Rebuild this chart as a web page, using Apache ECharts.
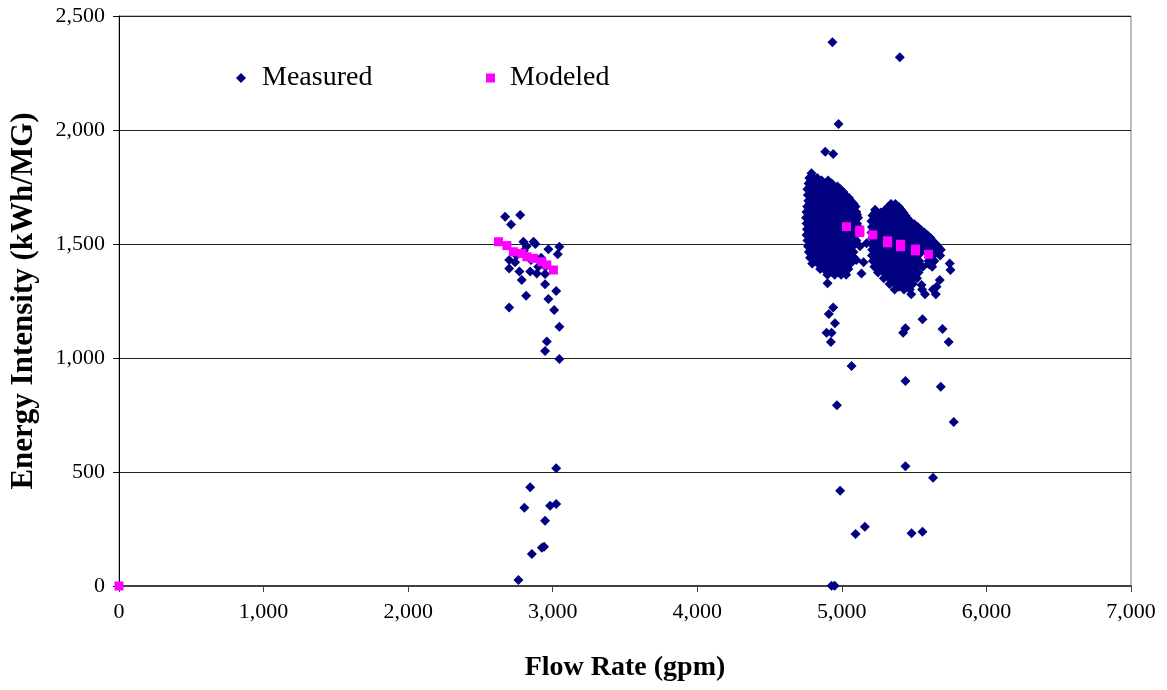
<!DOCTYPE html>
<html>
<head>
<meta charset="utf-8">
<script src="https://cdn.jsdelivr.net/npm/echarts@6/dist/echarts.min.js"></script>
<style>html,body{margin:0;padding:0;background:#fff;}#c{width:1167px;height:690px;}</style>
</head>
<body>
<div id="c"></div>
<script>
// ---- Data ----
var xTicks = [0, 1000, 2000, 3000, 4000, 5000, 6000, 7000];
var yTicks = [0, 500, 1000, 1500, 2000, 2500];

// Measured: low-flow group (~2,700-3,050 gpm)
var measuredLow = [
  [2671,1620],[2775,1627],[2712,1586],[2797,1510],[2867,1510],[2970,1477],[3046,1488],[3035,1455],
  [2699,1430],[2699,1393],[2770,1379],[2786,1342],[2844,1379],[2890,1371],[2947,1368],[2947,1323],
  [2816,1273],[3024,1294],[2970,1259],[2699,1221],[3010,1211],[3046,1137],[2959,1072],[2947,1031],
  [3046,996],[2750,1450],[2800,1470],[2850,1430],[2900,1400],[2950,1400],[2820,1490],[2880,1500],
  [2740,1420],[2920,1440],
  [3024,516],[2844,433],[2804,343],[2982,352],[3024,360],[2947,286],[2940,172],[2925,168],
  [2856,140],[2763,26]
];

// Measured: main cluster around 4,750-5,130 gpm
var measuredMidA = [
  [4790,1810],
  [4775,1790],[4805,1790],[4830,1790],
  [4788,1778],[4820,1778],[4860,1778],[4905,1778],
  [4770,1765],[4800,1765],[4840,1765],[4880,1765],[4930,1765],
  [4778,1752],[4812,1752],[4850,1752],[4890,1752],[4930,1752],[4970,1752],
  [4762,1740],[4795,1740],[4830,1740],[4870,1740],[4910,1740],[4950,1740],[4990,1740],
  [4780,1728],[4818,1728],[4858,1728],[4895,1728],[4935,1728],[4975,1728],[5010,1728],
  [4765,1715],[4800,1715],[4840,1715],[4875,1715],[4915,1715],[4955,1715],[4995,1715],[5025,1715],
  [4785,1702],[4822,1702],[4862,1702],[4902,1702],[4940,1702],[4980,1702],[5020,1702],[5050,1702],
  [4768,1690],[4805,1690],[4845,1690],[4885,1690],[4920,1690],[4960,1690],[5000,1690],[5040,1690],[5060,1690],
  [4778,1678],[4815,1678],[4855,1678],[4895,1678],[4935,1678],[4975,1678],[5015,1678],[5050,1678],[5080,1678],
  [4760,1665],[4795,1665],[4835,1665],[4875,1665],[4910,1665],[4950,1665],[4990,1665],[5030,1665],[5070,1665],[5095,1665],
  [4772,1652],[4812,1652],[4850,1652],[4888,1652],[4928,1652],[4965,1652],[5005,1652],[5042,1652],[5080,1652],
  [4755,1640],[4790,1640],[4830,1640],[4870,1640],[4905,1640],[4945,1640],[4985,1640],[5025,1640],[5060,1640],[5100,1640],
  [4770,1628],[4808,1628],[4848,1628],[4885,1628],[4922,1628],[4962,1628],[5000,1628],[5038,1628],[5075,1628],[5105,1628],
  [4752,1615],[4788,1615],[4825,1615],[4865,1615],[4900,1615],[4940,1615],[4980,1615],[5020,1615],[5055,1615],[5090,1615],[5112,1615],
  [4772,1602],[4812,1602],[4850,1602],[4890,1602],[4930,1602],[4970,1602],[5010,1602],[5048,1602],[5085,1602],
  [4756,1590],[4795,1590],[4835,1590],[4870,1590],[4910,1590],[4950,1590],[4990,1590],[5030,1590],[5065,1590],[5105,1590],
  [4775,1578],[4812,1578],[4850,1578],[4888,1578],[4928,1578],[4968,1578],[5005,1578],[5042,1578],[5080,1578],[5110,1578],
  [4758,1565],[4792,1565],[4830,1565],[4868,1565],[4905,1565],[4945,1565],[4985,1565],[5020,1565],[5060,1565],[5095,1565],[5120,1565],
  [4773,1552],[4810,1552],[4848,1552],[4885,1552],[4922,1552],[4962,1552],[5000,1552],[5038,1552],[5075,1552],[5105,1552],
  [4756,1540],[4790,1540],[4828,1540],[4865,1540],[4902,1540],[4940,1540],[4980,1540],[5018,1540],[5055,1540],[5090,1540],
  [4778,1528],[4818,1528],[4855,1528],[4892,1528],[4930,1528],[4970,1528],[5008,1528],[5045,1528],[5082,1528],
  [4762,1515],[4800,1515],[4838,1515],[4875,1515],[4912,1515],[4950,1515],[4990,1515],[5025,1515],[5065,1515],[5100,1515],
  [4784,1502],[4822,1502],[4860,1502],[4898,1502],[4935,1502],[4972,1502],[5012,1502],[5050,1502],[5095,1502],
  [4766,1490],[4805,1490],[4842,1490],[4880,1490],[4918,1490],[4955,1490],[4995,1490],[5030,1490],[5075,1490],[5125,1490],
  [4788,1478],[4826,1478],[4864,1478],[4902,1478],[4940,1478],[4978,1478],[5018,1478],[5060,1478],
  [4772,1465],[4810,1465],[4848,1465],[4885,1465],[4922,1465],[4960,1465],[5000,1465],[5040,1465],[5080,1465],
  [4796,1452],[4836,1452],[4872,1452],[4910,1452],[4950,1452],[4986,1452],[5025,1452],[5065,1452],
  [4780,1440],[4818,1440],[4855,1440],[4892,1440],[4930,1440],[4968,1440],[5005,1440],[5045,1440],[5085,1440],
  [4812,1428],[4852,1428],[4890,1428],[4928,1428],[4966,1428],[5005,1428],[5042,1428],
  [4795,1415],[4835,1415],[4872,1415],[4910,1415],[4948,1415],[4985,1415],[5025,1415],[5060,1415],
  [4870,1402],[4910,1402],[4950,1402],[4986,1402],[5025,1402],
  [4850,1390],[4890,1390],[4930,1390],[4968,1390],[5005,1390],[5045,1390],
  [4925,1378],[4972,1378],[5012,1378],
  [4900,1365],[4950,1365],[4995,1365],[5030,1365],
  [5136,1371],[5171,1503],[5150,1420],[5100,1430],[4894,1379],
  [4885,1905],[4940,1895],[4977,2026],[4935,2385],
  [4901,1328],[4940,1222],[4910,1193],[4952,1152],[4894,1111],[4929,1111],[4924,1070],
  [5067,965],[4966,793],[4988,418],[5159,260],[5095,228],[4929,1],[4950,1]
];

// Measured: second cluster around 5,200-5,750 gpm
var measuredMidB = [
  [5340,1675],[5370,1675],
  [5320,1662],[5355,1662],[5395,1662],
  [5230,1650],[5300,1650],[5340,1650],[5380,1650],[5410,1650],
  [5230,1638],[5270,1638],[5310,1638],[5350,1638],[5390,1638],[5425,1638],
  [5212,1625],[5250,1625],[5290,1625],[5330,1625],[5370,1625],[5410,1625],[5440,1625],
  [5224,1612],[5262,1612],[5300,1612],[5340,1612],[5380,1612],[5420,1612],[5455,1612],
  [5205,1600],[5242,1600],[5280,1600],[5320,1600],[5360,1600],[5400,1600],[5440,1600],[5470,1600],
  [5225,1588],[5262,1588],[5302,1588],[5342,1588],[5382,1588],[5422,1588],[5460,1588],[5500,1588],
  [5208,1575],[5245,1575],[5285,1575],[5325,1575],[5365,1575],[5405,1575],[5445,1575],[5485,1575],[5525,1575],
  [5222,1562],[5262,1562],[5302,1562],[5342,1562],[5382,1562],[5422,1562],[5462,1562],[5500,1562],[5545,1562],
  [5205,1550],[5240,1550],[5280,1550],[5320,1550],[5360,1550],[5400,1550],[5440,1550],[5480,1550],[5520,1550],[5570,1550],
  [5225,1538],[5265,1538],[5305,1538],[5345,1538],[5385,1538],[5425,1538],[5465,1538],[5505,1538],[5550,1538],[5592,1538],
  [5210,1525],[5248,1525],[5288,1525],[5328,1525],[5368,1525],[5408,1525],[5448,1525],[5490,1525],[5530,1525],[5570,1525],[5615,1525],
  [5225,1512],[5265,1512],[5305,1512],[5345,1512],[5385,1512],[5425,1512],[5465,1512],[5505,1512],[5545,1512],[5585,1512],[5628,1512],
  [5206,1500],[5244,1500],[5284,1500],[5324,1500],[5364,1500],[5404,1500],[5444,1500],[5484,1500],[5525,1500],[5565,1500],[5605,1500],[5650,1500],
  [5228,1488],[5268,1488],[5308,1488],[5348,1488],[5388,1488],[5428,1488],[5468,1488],[5508,1488],[5548,1488],[5615,1488],[5665,1488],
  [5210,1475],[5250,1475],[5290,1475],[5330,1475],[5370,1475],[5410,1475],[5450,1475],[5490,1475],[5530,1475],[5590,1475],[5640,1475],[5685,1475],
  [5228,1462],[5268,1462],[5308,1462],[5348,1462],[5388,1462],[5428,1462],[5468,1462],[5506,1462],[5545,1462],[5650,1462],
  [5208,1450],[5246,1450],[5286,1450],[5326,1450],[5366,1450],[5406,1450],[5446,1450],[5486,1450],[5525,1450],[5615,1450],[5680,1450],
  [5232,1438],[5272,1438],[5312,1438],[5352,1438],[5392,1438],[5432,1438],[5472,1438],[5512,1438],[5620,1438],
  [5215,1425],[5255,1425],[5295,1425],[5335,1425],[5375,1425],[5415,1425],[5455,1425],[5495,1425],[5535,1425],[5600,1425],[5640,1425],
  [5242,1412],[5282,1412],[5320,1412],[5360,1412],[5400,1412],[5440,1412],[5480,1412],[5520,1412],[5600,1412],
  [5225,1400],[5262,1400],[5300,1400],[5340,1400],[5380,1400],[5420,1400],[5460,1400],[5500,1400],[5560,1400],[5625,1400],
  [5268,1388],[5310,1388],[5350,1388],[5390,1388],[5430,1388],[5470,1388],[5510,1388],
  [5250,1375],[5290,1375],[5330,1375],[5370,1375],[5410,1375],[5450,1375],[5490,1375],[5530,1375],
  [5310,1362],[5350,1362],[5390,1362],[5430,1362],[5470,1362],[5505,1362],
  [5290,1350],[5330,1350],[5370,1350],[5410,1350],[5450,1350],[5490,1350],[5520,1350],
  [5350,1338],[5390,1338],[5430,1338],[5470,1338],
  [5330,1325],[5370,1325],[5410,1325],[5450,1325],[5490,1325],
  [5395,1312],[5450,1312],
  [5365,1300],[5430,1300],[5470,1300],[5555,1300],[5630,1300],
  [5480,1280],[5575,1280],[5650,1280],
  [5746,1415],[5751,1386],[5677,1342],[5655,1313],[5551,1320],
  [5401,2319],
  [5558,1170],[5696,1127],[5739,1070],[5424,1111],[5440,1130],
  [5440,899],[5684,874],[5774,719],[5440,525],[5631,475],[5482,231],[5558,238]
];

var measured = measuredLow.concat(measuredMidA, measuredMidB);

// Modeled
var modeled = [
  [0,0],
  [2625,1510],[2683,1493],[2728,1466],[2786,1459],[2821,1444],[2867,1437],[2925,1422],[2959,1408],[3005,1386],
  [5032,1576],[5124,1561],[5124,1550],[5214,1540],[5316,1514],[5316,1505],[5406,1499],[5406,1488],[5509,1478],[5509,1470],[5599,1455]
];

var FONT = 'Liberation Serif';
function fmt(v){ return v.toLocaleString('en-US'); }

var chart = echarts.init(document.getElementById('c'), null, {renderer:'canvas'});
chart.setOption({
  backgroundColor: '#ffffff',
  animation: false,
  grid: { left: 118, right: 36, top: 16, bottom: 104, show: true, borderColor: '#808080', borderWidth: 1, backgroundColor: 'transparent' },
  legend: [
    { data: ['Measured'], left: 236, top: 64, padding: 0, itemWidth: 10, itemHeight: 10,
      textStyle: { fontFamily: FONT, fontSize: 28, color: '#000', padding: [0,0,0,11] } },
    { data: ['Modeled'], left: 486, top: 64, padding: 0, itemWidth: 9, itemHeight: 9,
      textStyle: { fontFamily: FONT, fontSize: 28, color: '#000', padding: [0,0,0,10] } }
  ],
  xAxis: {
    type: 'value', min: xTicks[0], max: xTicks[xTicks.length-1], interval: 1000,
    name: 'Flow Rate (gpm)', nameLocation: 'middle', nameGap: 68,
    nameTextStyle: { fontFamily: FONT, fontSize: 28, fontWeight: 'bold', color: '#000' },
    axisLine: { show: true, lineStyle: { color: '#404040', width: 2 } },
    axisTick: { show: true, inside: false, length: 6, lineStyle: { color: '#404040' } },
    axisLabel: { fontFamily: FONT, fontSize: 22, color: '#000', margin: 15, formatter: fmt },
    splitLine: { show: false }
  },
  yAxis: {
    type: 'value', min: yTicks[0], max: yTicks[yTicks.length-1], interval: 500,
    name: 'Energy Intensity (kWh/MG)', nameLocation: 'middle', nameGap: 80, nameRotate: 90,
    nameTextStyle: { fontFamily: FONT, fontSize: 31, fontWeight: 'bold', color: '#000' },
    axisLine: { show: true, lineStyle: { color: '#000', width: 1 } },
    axisTick: { show: true, inside: false, length: 6, lineStyle: { color: '#000' } },
    axisLabel: { fontFamily: FONT, fontSize: 22, color: '#000', margin: 14, formatter: fmt },
    splitLine: { show: true, lineStyle: { color: '#222', width: 1 } }
  },
  series: [
    { name: 'Measured', type: 'scatter', symbol: 'diamond', symbolSize: 10, clip: false,
      itemStyle: { color: '#000080', opacity: 1 }, data: measured },
    { name: 'Modeled', type: 'scatter', symbol: 'rect', symbolSize: 9, clip: false,
      itemStyle: { color: '#FF00FF', opacity: 1 }, data: modeled }
  ]
});
</script>
</body>
</html>
